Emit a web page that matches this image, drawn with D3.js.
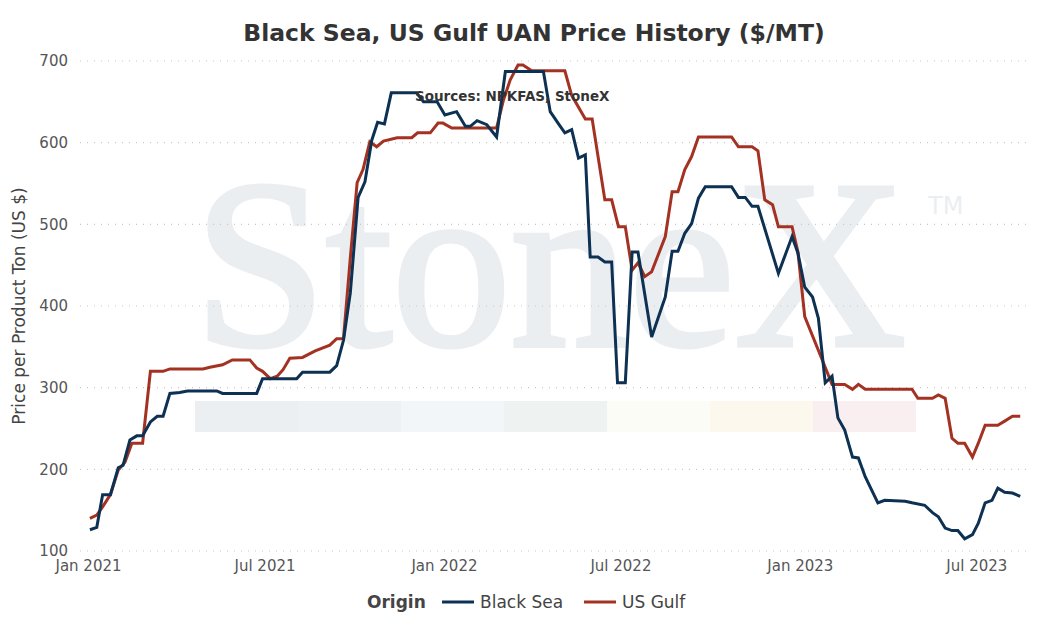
<!DOCTYPE html>
<html>
<head>
<meta charset="utf-8">
<script src="https://cdn.jsdelivr.net/npm/d3@7"></script>
<style>
  body { margin: 0; background: #fff; font-family: "DejaVu Sans", sans-serif; }
</style>
</head>
<body>
<div id="container"></div>
<script>
// [days since 2021-01-01, $/MT]
const blackSea = [[2,126],[9,129],[15,169],[23,169],[31,202],[36,205],[43,236],[50,241],[56,241],[64,258],[71,265],[77,265],[84,293],[94,294],[102,296],[132,296],[138,293],[173,293],[179,311],[214,311],[220,319],[248,319],[255,327],[262,358],[269,416],[277,533],[284,552],[291,603],[297,625],[304,623],[311,661],[337,661],[344,650],[358,650],[366,634],[378,638],[387,620],[392,620],[399,627],[409,622],[419,607],[428,687],[467,687],[474,638],[482,624],[489,612],[496,616],[503,581],[510,585],[515,460],[523,460],[530,454],[537,454],[543,306],[551,306],[558,466],[564,466],[578,362],[592,411],[599,467],[605,467],[612,489],[619,501],[626,532],[633,546],[660,546],[667,533],[674,533],[681,522],[687,522],[708,440],[722,485],[728,465],[735,423],[743,411],[749,385],[756,306],[763,314],[769,263],[776,248],[784,215],[790,214],[797,191],[810,159],[817,162],[838,161],[845,159],[858,156],[866,147],[872,142],[879,128],[886,125],[892,125],[899,115],[907,120],[913,134],[920,159],[927,162],[933,177],[940,172],[948,171],[956,167]];

const usGulf = [[2,140],[9,144],[15,154],[23,169],[31,199],[38,209],[45,232],[56,232],[64,320],[77,320],[84,323],[118,323],[125,325],[138,328],[148,334],[166,334],[173,324],[179,320],[187,311],[194,314],[200,322],[207,336],[220,337],[233,345],[248,352],[255,360],[262,360],[269,459],[276,551],[282,567],[289,601],[296,595],[303,602],[317,606],[332,606],[338,612],[351,612],[359,624],[364,624],[373,618],[419,618],[426,652],[433,677],[441,695],[446,695],[455,688],[489,688],[496,658],[510,629],[517,629],[530,530],[537,530],[544,497],[551,497],[558,444],[564,453],[571,436],[578,442],[592,485],[599,540],[605,540],[612,567],[619,583],[626,607],[660,607],[667,595],[681,595],[687,590],[694,530],[702,524],[708,497],[722,497],[728,466],[735,387],[756,325],[763,304],[776,304],[784,298],[790,304],[797,298],[845,298],[851,287],[866,287],[872,291],[879,287],[886,238],[892,232],[899,232],[907,215],[913,232],[920,254],[933,254],[940,259],[948,265],[956,265]];

const start = new Date(2021, 0, 1);
const toDate = d => d3.timeDay.offset(start, d);

const width = 1045, height = 634;
const mLeft = 88, mRight = 1030, mTop = 61, mBottom = 551;

const svg = d3.select('#container').append('svg')
  .attr('width', width)
  .attr('height', height);

const xScale = d3.scaleTime()
  .domain([start, toDate(966)])
  .range([mLeft, mRight]);
const yScale = d3.scaleLinear()
  .domain([100, 700])
  .range([mBottom, mTop]);

// watermark
svg.append('text')
  .attr('x', 550).attr('y', 345)
  .attr('text-anchor', 'middle')
  .attr('font-family', '"Liberation Serif", "DejaVu Serif", serif')
  .attr('font-size', 240)
  .attr('textLength', 712)
  .attr('lengthAdjust', 'spacingAndGlyphs')
  .attr('fill', '#ebeef1')
  .attr('stroke', '#ebeef1')
  .attr('stroke-width', 5)
  .text('StoneX');
svg.append('text')
  .attr('x', 928).attr('y', 214)
  .attr('font-size', 24)
  .attr('fill', '#ebeef1')
  .text('TM');
const stripColors = ['#eceff2','#eef1f4','#f3f6f9','#eef3f1','#fcfcf6','#fcf8ee','#f9eef0'];
svg.selectAll('rect.strip')
  .data(stripColors)
  .enter()
  .append('rect')
  .attr('class', 'strip')
  .attr('x', (_, i) => 195 + i * 103)
  .attr('y', 401)
  .attr('width', 103)
  .attr('height', 31)
  .attr('fill', c => c);

// grid
svg.append('g')
  .selectAll('line')
  .data(yScale.ticks(6))
  .enter()
  .append('line')
  .attr('x1', mLeft - 8).attr('x2', mRight)
  .attr('y1', d => yScale(d)).attr('y2', d => yScale(d))
  .attr('stroke', '#c8c8c8')
  .attr('stroke-dasharray', '1,6')
  .attr('stroke-width', 1.2);

const yAxis = d3.axisLeft(yScale).ticks(6).tickSize(0).tickPadding(20);
svg.append('g')
  .attr('id', 'y-axis')
  .attr('transform', `translate(${mLeft}, 0)`)
  .call(yAxis)
  .call(g => g.select('.domain').remove())
  .selectAll('text')
  .attr('font-size', 15)
  .attr('font-family', '"DejaVu Sans", sans-serif')
  .attr('fill', '#555');

const xTicks = [new Date(2021,0,1), new Date(2021,6,1), new Date(2022,0,1), new Date(2022,6,1), new Date(2023,0,1), new Date(2023,6,1)];
const xAxis = d3.axisBottom(xScale)
  .tickValues(xTicks)
  .tickFormat(d3.timeFormat('%b %Y'))
  .tickSize(0).tickPadding(9);
svg.append('g')
  .attr('id', 'x-axis')
  .attr('transform', `translate(0, ${mBottom})`)
  .call(xAxis)
  .call(g => g.select('.domain').remove())
  .selectAll('text')
  .attr('font-size', 15)
  .attr('font-family', '"DejaVu Sans", sans-serif')
  .attr('fill', '#555');

const line = d3.line()
  .x(d => xScale(toDate(d[0])))
  .y(d => yScale(d[1]));

svg.append('path').datum(usGulf)
  .attr('d', line).attr('fill', 'none')
  .attr('stroke', '#a33222').attr('stroke-width', 3);
svg.append('path').datum(blackSea)
  .attr('d', line).attr('fill', 'none')
  .attr('stroke', '#0d3152').attr('stroke-width', 3);

svg.append('text')
  .attr('x', 415).attr('y', 101)
  .attr('font-size', 13.5).attr('font-weight', 'bold')
  .attr('fill', '#333')
  .text('Sources: NPKFAS, StoneX');

svg.append('text')
  .attr('x', 534).attr('y', 41)
  .attr('text-anchor', 'middle')
  .attr('font-size', 23.5).attr('font-weight', 'bold')
  .attr('fill', '#333')
  .text('Black Sea, US Gulf UAN Price History ($/MT)');

svg.append('text')
  .attr('transform', 'translate(25, 306) rotate(-90)')
  .attr('text-anchor', 'middle')
  .attr('font-size', 17)
  .attr('fill', '#444')
  .text('Price per Product Ton (US $)');

// legend
const lg = svg.append('g').attr('transform', 'translate(0, 608)');
lg.append('text').attr('x', 367).attr('y', 0)
  .attr('font-size', 17).attr('font-weight', 'bold').attr('fill', '#444')
  .text('Origin');
[['Black Sea', '#0d3152', 442], ['US Gulf', '#a33222', 584]].forEach(([name, c, x]) => {
  lg.append('line').attr('x1', x).attr('x2', x + 32).attr('y1', -6).attr('y2', -6)
    .attr('stroke', c).attr('stroke-width', 3);
  lg.append('text').attr('x', x + 38).attr('y', 0)
    .attr('font-size', 17).attr('fill', '#444').text(name);
});
</script>
</body>
</html>
